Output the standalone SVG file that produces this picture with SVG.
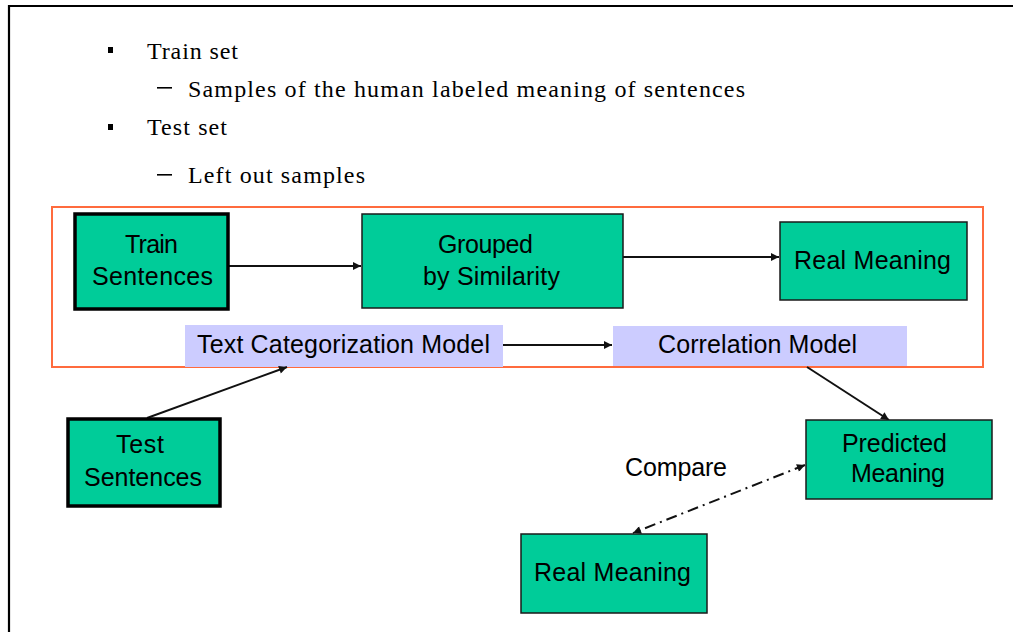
<svg xmlns="http://www.w3.org/2000/svg" width="1013" height="632" viewBox="0 0 1013 632">
<defs>
<style>
.serif{font-family:"Liberation Serif","Times New Roman",serif;font-size:24px;fill:#000}
.lbl{font-family:"Liberation Sans",Arial,sans-serif;font-size:25px;fill:#000}
.node{fill:#00CC99;stroke:#1a1a1a;stroke-width:1.5}
.thick{fill:#00CC99;stroke:#000;stroke-width:3.5}
.bar{fill:#CCCCFF}
.conn{stroke:#111;stroke-width:2;fill:none}
</style>
<marker id="ah" viewBox="0 0 10 10" refX="10" refY="5" markerWidth="9" markerHeight="8" markerUnits="userSpaceOnUse" orient="auto-start-reverse">
<path d="M0,0 L10,5 L0,10 Z" fill="#111"/>
</marker>
</defs>
<rect x="0" y="0" width="1013" height="632" fill="#fff"/>
<path d="M9,632 V6 H1013" fill="none" stroke="#000" stroke-width="2.2"/>

<g id="bullets">
<rect x="108" y="47" width="5" height="6" fill="#000"/>
<text class="serif" x="147" y="59" textLength="91" lengthAdjust="spacing">Train set</text>
<rect x="157" y="87" width="15" height="1.6" fill="#000"/>
<text class="serif" x="188" y="97" textLength="557" lengthAdjust="spacing">Samples of the human labeled meaning of sentences</text>
<rect x="108" y="124" width="5" height="6" fill="#000"/>
<text class="serif" x="147" y="135" textLength="80" lengthAdjust="spacing">Test set</text>
<rect x="157" y="174" width="15" height="1.6" fill="#000"/>
<text class="serif" x="188" y="183" textLength="177" lengthAdjust="spacing">Left out samples</text>
</g>

<g id="train-group">
<rect x="52" y="207" width="931" height="160" fill="none" stroke="#FF6B3D" stroke-width="2"/>
</g>

<g id="bar-textcat">
<rect class="bar" x="185" y="325" width="318" height="42"/>
<text class="lbl" x="197" y="353" textLength="293" lengthAdjust="spacing">Text Categorization Model</text>
</g>
<g id="bar-correlation">
<rect class="bar" x="613" y="326" width="294" height="40"/>
<text class="lbl" x="658" y="353" textLength="199" lengthAdjust="spacing">Correlation Model</text>
</g>

<g id="connectors">
<line class="conn" x1="229" y1="266" x2="361" y2="266" marker-end="url(#ah)"/>
<line class="conn" x1="623" y1="257" x2="779" y2="257" marker-end="url(#ah)"/>
<line class="conn" x1="503" y1="345" x2="612" y2="345" marker-end="url(#ah)"/>
<line class="conn" x1="147" y1="418" x2="287" y2="367" marker-end="url(#ah)"/>
<line class="conn" x1="807" y1="367" x2="889" y2="420" marker-end="url(#ah)"/>
<line class="conn" x1="805" y1="465" x2="633" y2="533" stroke-dasharray="11,5,2,5" marker-start="url(#ah)" marker-end="url(#ah)"/>
<text class="lbl" x="625" y="476" textLength="102" lengthAdjust="spacing">Compare</text>
</g>

<g id="train-sentences">
<rect class="thick" x="75" y="214" width="153" height="95"/>
<text class="lbl" x="125" y="253" textLength="53" lengthAdjust="spacing">Train</text>
<text class="lbl" x="92" y="285" textLength="121" lengthAdjust="spacing">Sentences</text>
</g>
<g id="grouped">
<rect class="node" x="362" y="214" width="261" height="94"/>
<text class="lbl" x="438" y="253" textLength="95" lengthAdjust="spacing">Grouped</text>
<text class="lbl" x="423" y="285" textLength="137" lengthAdjust="spacing">by Similarity</text>
</g>
<g id="real-meaning-top">
<rect class="node" x="780" y="222" width="187" height="78"/>
<text class="lbl" x="794" y="269" textLength="157" lengthAdjust="spacing">Real Meaning</text>
</g>
<g id="test-sentences">
<rect class="thick" x="68" y="419" width="152" height="87"/>
<text class="lbl" x="116" y="453" textLength="48" lengthAdjust="spacing">Test</text>
<text class="lbl" x="84" y="486" textLength="118" lengthAdjust="spacing">Sentences</text>
</g>
<g id="predicted-meaning">
<rect class="node" x="806" y="420" width="186" height="79"/>
<text class="lbl" x="842" y="452" textLength="105" lengthAdjust="spacing">Predicted</text>
<text class="lbl" x="851" y="482" textLength="94" lengthAdjust="spacing">Meaning</text>
</g>
<g id="real-meaning-bottom">
<rect class="node" x="521" y="534" width="186" height="79"/>
<text class="lbl" x="534" y="581" textLength="157" lengthAdjust="spacing">Real Meaning</text>
</g>
</svg>
